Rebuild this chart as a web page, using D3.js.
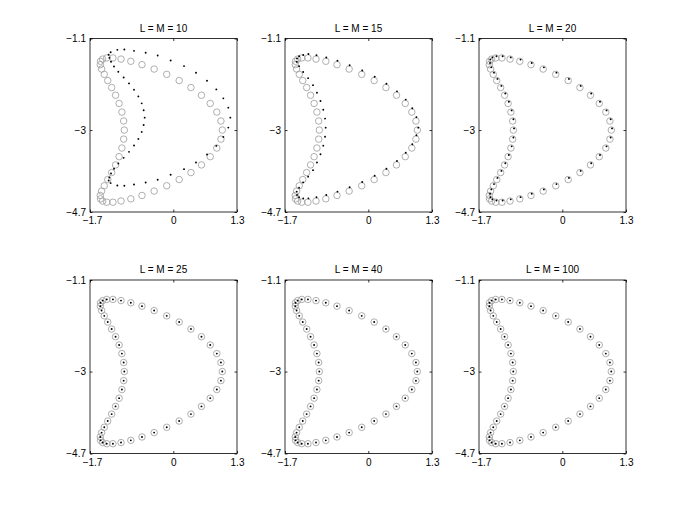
<!DOCTYPE html>
<html><head><meta charset="utf-8">
<script src="https://cdn.jsdelivr.net/npm/d3@7/dist/d3.min.js"></script>
<style>body{margin:0;background:#fff}svg{display:block}text{font-family:"Liberation Sans",Arial,Helvetica,sans-serif}</style>
</head><body><svg id="c" width="692" height="510"></svg>
<script>
const titles = ["L = M = 10", "L = M = 15", "L = M = 20", "L = M = 25", "L = M = 40", "L = M = 100"];
const xTicks = [-1.7, 0, 1.3];
const yTicks = [-1.1, -3, -4.7];
const xDomain = [-1.7, 1.3];
const yDomain = [-4.7, -1.1];

// exact boundary points (gray circles)
const exact = [[1.000,-3.000],[0.972,-2.812],[0.888,-2.627],[0.754,-2.448],[0.575,-2.277],[0.360,-2.118],[0.120,-1.973],[-0.134,-1.844],[-0.391,-1.734],[-0.639,-1.643],[-0.867,-1.573],[-1.067,-1.527],[-1.232,-1.503],[-1.358,-1.503],[-1.442,-1.527],[-1.485,-1.573],[-1.490,-1.643],[-1.463,-1.734],[-1.409,-1.844],[-1.338,-1.973],[-1.258,-2.118],[-1.178,-2.277],[-1.106,-2.448],[-1.049,-2.627],[-1.013,-2.812],[-1.000,-3.000],[-1.013,-3.188],[-1.049,-3.373],[-1.106,-3.552],[-1.178,-3.723],[-1.258,-3.882],[-1.338,-4.027],[-1.409,-4.156],[-1.463,-4.266],[-1.490,-4.357],[-1.485,-4.427],[-1.442,-4.473],[-1.358,-4.497],[-1.232,-4.497],[-1.067,-4.473],[-0.867,-4.427],[-0.639,-4.357],[-0.391,-4.266],[-0.134,-4.156],[0.120,-4.027],[0.360,-3.882],[0.575,-3.723],[0.754,-3.552],[0.888,-3.373],[0.972,-3.188]];

// reconstructed points (black dots)
const recon10 = [[1.164,-2.742],[1.123,-2.535],[1.021,-2.342],[0.878,-2.156],[0.688,-1.977],[0.463,-1.811],[0.219,-1.673],[-0.054,-1.556],[-0.319,-1.452],[-0.564,-1.397],[-0.802,-1.356],[-0.999,-1.328],[-1.142,-1.335],[-1.278,-1.384],[-1.319,-1.438],[-1.305,-1.501],[-1.271,-1.583],[-1.210,-1.680],[-1.122,-1.790],[-1.013,-1.908],[-0.904,-2.032],[-0.802,-2.163],[-0.713,-2.301],[-0.645,-2.446],[-0.605,-2.590],[-0.584,-2.742],[-0.605,-2.894],[-0.645,-3.038],[-0.713,-3.183],[-0.802,-3.321],[-0.904,-3.452],[-1.013,-3.576],[-1.122,-3.694],[-1.210,-3.804],[-1.271,-3.901],[-1.305,-3.983],[-1.319,-4.046],[-1.278,-4.100],[-1.142,-4.149],[-0.999,-4.156],[-0.802,-4.128],[-0.564,-4.087],[-0.319,-4.032],[-0.054,-3.928],[0.219,-3.811],[0.463,-3.673],[0.688,-3.507],[0.878,-3.328],[1.021,-3.142],[1.123,-2.949]];
const recon15 = [[1.020,-2.950],[0.982,-2.732],[0.898,-2.547],[0.764,-2.368],[0.585,-2.197],[0.370,-2.038],[0.130,-1.893],[-0.124,-1.764],[-0.381,-1.654],[-0.629,-1.563],[-0.857,-1.493],[-1.057,-1.447],[-1.222,-1.423],[-1.328,-1.443],[-1.412,-1.467],[-1.455,-1.513],[-1.460,-1.583],[-1.413,-1.674],[-1.329,-1.794],[-1.228,-1.923],[-1.128,-2.068],[-1.048,-2.227],[-0.976,-2.398],[-0.919,-2.577],[-0.883,-2.762],[-0.870,-2.950],[-0.883,-3.138],[-0.919,-3.323],[-0.976,-3.502],[-1.048,-3.673],[-1.128,-3.832],[-1.228,-3.967],[-1.329,-4.086],[-1.413,-4.196],[-1.460,-4.277],[-1.455,-4.347],[-1.412,-4.393],[-1.328,-4.417],[-1.222,-4.417],[-1.057,-4.393],[-0.857,-4.347],[-0.629,-4.277],[-0.381,-4.186],[-0.124,-4.076],[0.130,-3.947],[0.370,-3.802],[0.585,-3.643],[0.764,-3.472],[0.898,-3.293],[0.982,-3.108]];
const recon20 = [[1.015,-2.965],[0.987,-2.777],[0.903,-2.592],[0.769,-2.413],[0.590,-2.242],[0.375,-2.083],[0.135,-1.938],[-0.119,-1.809],[-0.376,-1.699],[-0.624,-1.608],[-0.852,-1.538],[-1.052,-1.492],[-1.217,-1.468],[-1.343,-1.468],[-1.427,-1.492],[-1.470,-1.538],[-1.475,-1.608],[-1.448,-1.699],[-1.394,-1.809],[-1.323,-1.938],[-1.243,-2.083],[-1.163,-2.242],[-1.091,-2.413],[-1.034,-2.592],[-0.998,-2.777],[-0.985,-2.965],[-0.998,-3.153],[-1.034,-3.338],[-1.091,-3.517],[-1.163,-3.688],[-1.243,-3.847],[-1.323,-3.992],[-1.394,-4.121],[-1.448,-4.231],[-1.475,-4.322],[-1.470,-4.392],[-1.427,-4.438],[-1.343,-4.462],[-1.217,-4.462],[-1.052,-4.438],[-0.852,-4.392],[-0.624,-4.322],[-0.376,-4.231],[-0.119,-4.121],[0.135,-3.992],[0.375,-3.847],[0.590,-3.688],[0.769,-3.517],[0.903,-3.338],[0.987,-3.153]];
const recon25 = exact, recon40 = exact, recon100 = exact;

const recons = [recon10, recon15, recon20, recon25, recon40, recon100];

const svg = d3.select("#c");
svg.append("rect").attr("width", 692).attr("height", 510).attr("fill", "#fff");

const lefts = [90, 285, 479];
const tops = [38.5, 280];
const W = 147, H = 173.5;

titles.forEach((t, i) => {
  const col = i % 3, row = Math.floor(i / 3);
  const x0 = lefts[col], y0 = tops[row];
  const x = d3.scaleLinear().domain(xDomain).range([0, W]);
  const y = d3.scaleLinear().domain(yDomain).range([H, 0]);
  const g = svg.append("g").attr("transform", `translate(${x0},${y0})`);

  g.append("rect").attr("x", 0).attr("y", 0).attr("width", W).attr("height", H)
    .attr("fill", "#fff");

  // gray circles
  g.append("g").selectAll("circle").data(exact).join("circle")
    .attr("cx", d => x(d[0])).attr("cy", d => y(d[1])).attr("r", 3.25)
    .attr("fill", "none").attr("stroke", "#a0a0a0").attr("stroke-width", 0.85);
  // black dots
  g.append("g").selectAll("circle").data(recons[i]).join("circle")
    .attr("cx", d => x(d[0])).attr("cy", d => y(d[1])).attr("r", 0.95)
    .attr("fill", "#000");

  // axes
  const fmt = d => (d < 0 ? "\u2212" : "") + Math.abs(d);
  const xb = g.append("g").attr("transform", `translate(0,${H})`)
    .call(d3.axisBottom(x).tickValues(xTicks).tickSize(-2.5).tickPadding(5).tickFormat(fmt));
  const xt = g.append("g").call(d3.axisTop(x).tickValues(xTicks).tickSize(-2.5).tickFormat(""));
  const yl = g.append("g").call(d3.axisLeft(y).tickValues(yTicks).tickSize(-2.5).tickPadding(4).tickFormat(fmt));
  const yr = g.append("g").attr("transform", `translate(${W},0)`)
    .call(d3.axisRight(y).tickValues(yTicks).tickSize(-2.5).tickFormat(""));
  [xb, xt, yl, yr].forEach(a => {
    a.select(".domain").remove();
    a.selectAll("line").attr("stroke", "#000").attr("stroke-width", 0.8);
    a.selectAll("text").attr("font-size", 10).attr("fill", "#000");
  });
  xb.selectAll("text").attr("dx", d => d < 0 ? 2 : 0);

  g.append("rect").attr("x", 0).attr("y", 0).attr("width", W).attr("height", H)
    .attr("fill", "none").attr("stroke", "#000").attr("stroke-width", 0.8);

  g.append("text").attr("x", W / 2).attr("y", -7).attr("text-anchor", "middle")
    .attr("font-size", 10).attr("fill", "#000").text(t);
});
</script></body></html>
